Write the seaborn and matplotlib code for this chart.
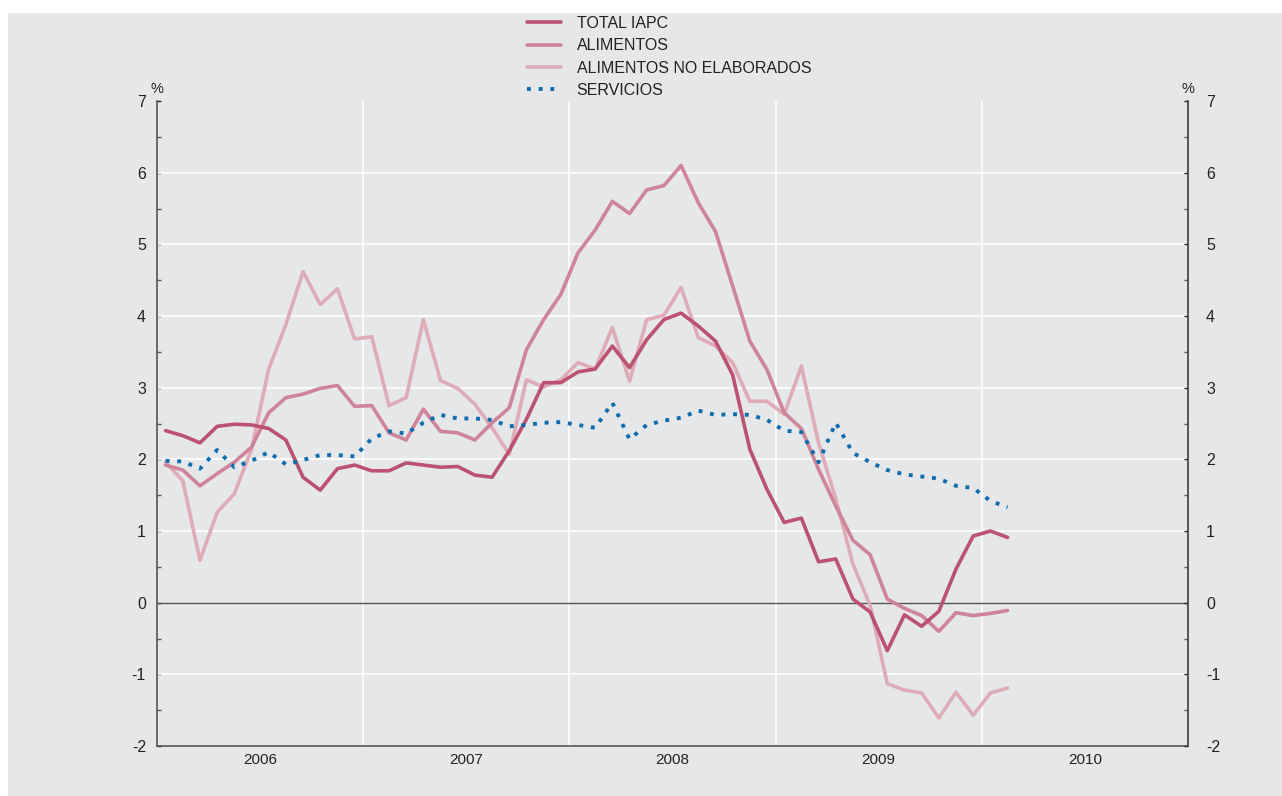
import numpy as np
import pandas as pd
import matplotlib
matplotlib.use("Agg")
import matplotlib.pyplot as plt
import matplotlib.patches as mpatches
import seaborn as sns

# monthly data, Jan 2006 - Feb 2010 (% tasa interanual)
total_iapc = [2.40, 2.33, 2.23, 2.46, 2.49, 2.48, 2.43, 2.27, 1.75, 1.57, 1.87, 1.92,
              1.84, 1.84, 1.95, 1.92, 1.89, 1.90, 1.78, 1.75, 2.12, 2.56, 3.07, 3.07,
              3.22, 3.26, 3.58, 3.28, 3.67, 3.95, 4.04, 3.86, 3.65, 3.18, 2.14, 1.58,
              1.12, 1.18, 0.57, 0.61, 0.05, -0.13, -0.67, -0.17, -0.33, -0.12, 0.47, 0.93,
              1.00, 0.91]
alimentos = [1.92, 1.85, 1.63, 1.80, 1.96, 2.17, 2.65, 2.86, 2.91, 2.99, 3.03, 2.74,
             2.75, 2.37, 2.27, 2.70, 2.39, 2.37, 2.27, 2.51, 2.72, 3.53, 3.95, 4.30,
             4.88, 5.20, 5.60, 5.43, 5.76, 5.82, 6.10, 5.58, 5.18, 4.42, 3.65, 3.25,
             2.65, 2.43, 1.86, 1.35, 0.87, 0.67, 0.05, -0.08, -0.18, -0.40, -0.14, -0.18,
             -0.15, -0.11]
alim_no_elab = [1.96, 1.70, 0.59, 1.26, 1.52, 2.14, 3.26, 3.88, 4.62, 4.16, 4.38, 3.68,
                3.71, 2.75, 2.86, 3.95, 3.10, 2.99, 2.77, 2.44, 2.07, 3.11, 3.01, 3.11,
                3.35, 3.26, 3.84, 3.09, 3.95, 4.01, 4.40, 3.70, 3.58, 3.35, 2.81, 2.81,
                2.63, 3.30, 2.23, 1.45, 0.54, -0.04, -1.13, -1.22, -1.26, -1.61, -1.25, -1.57,
                -1.26, -1.19]
servicios = [1.98, 1.97, 1.87, 2.13, 1.89, 1.98, 2.10, 1.93, 1.99, 2.06, 2.06, 2.04,
             2.29, 2.39, 2.36, 2.51, 2.62, 2.57, 2.57, 2.55, 2.46, 2.48, 2.51, 2.52,
             2.48, 2.44, 2.79, 2.28, 2.48, 2.54, 2.58, 2.68, 2.62, 2.63, 2.62, 2.55,
             2.40, 2.38, 1.96, 2.51, 2.09, 1.96, 1.85, 1.79, 1.76, 1.73, 1.63, 1.60,
             1.42, 1.33]
years = ["2006", "2007", "2008", "2009", "2010"]

months = np.arange(len(total_iapc)) + 0.5

BG = "#e6e7e9"
sns.set_theme(style="white")
plt.rcParams['font.family'] = ['Liberation Sans', 'DejaVu Sans']
plt.rcParams['axes.unicode_minus'] = False

fig = plt.figure(figsize=(12.82, 7.96), dpi=100)
fig.patch.set_facecolor("white")
fig.patches.append(mpatches.Rectangle((8 / 1282, 0.0), 1.0, 1 - 13 / 796,
                                      transform=fig.transFigure, facecolor=BG,
                                      edgecolor="none", zorder=-5))

ax = fig.add_axes([157 / 1282, 1 - 746 / 796, (1188 - 157) / 1282, (746 - 101) / 796])
ax.set_facecolor(BG)

# light lines first so the total line sits on top
sns.lineplot(x=months, y=alim_no_elab, ax=ax, color="#deabb7", linewidth=2.6,
             label="ALIMENTOS NO ELABORADOS", zorder=3)
sns.lineplot(x=months, y=alimentos, ax=ax, color="#cf8499", linewidth=2.6,
             label="ALIMENTOS", zorder=3.2)
sns.lineplot(x=months, y=total_iapc, ax=ax, color="#bb5272", linewidth=2.6,
             label="TOTAL IAPC", zorder=3.4)
sns.lineplot(x=months, y=servicios, ax=ax, color="#0b6db1", linewidth=2.8,
             label="SERVICIOS", zorder=5)
ax.lines[-1].set_dashes((1, 2))
ax.lines[-1].set_dash_capstyle("butt")

ax.set_xlim(0, 60)
ax.set_ylim(-2, 7)

# grid
for yv in range(-1, 7):
    if yv != 0:
        ax.axhline(yv, color="white", lw=1.2, zorder=1)
for xv in [12, 24, 36, 48]:
    ax.axvline(xv, color="white", lw=1.2, zorder=1)
ax.axhline(0, color="#555555", lw=1.0, zorder=2)

ax.spines["top"].set_visible(False)
for side in ["left", "right", "bottom"]:
    ax.spines[side].set_color("#555555")
    ax.spines[side].set_linewidth(1.2)

# x ticks
ax.set_xticks([6, 18, 30, 42, 54])
ax.set_xticklabels(years)
ax.set_xticks(np.arange(0, 61), minor=True)
ax.tick_params(axis="x", which="major", length=0, pad=5, labelsize=11, colors="#222222")
ax.tick_params(axis="x", which="minor", direction="in", color="#555555", width=1.0)
for k, t in enumerate(ax.xaxis.get_minor_ticks()):
    if k % 12 == 0:
        t.tick1line.set_markersize(7.7)
    elif k % 3 == 0:
        t.tick1line.set_markersize(4.8)
    else:
        t.tick1line.set_markersize(2.4)

# y ticks left
ax.set_yticks(range(-2, 8))
ax.set_yticks(np.arange(-2, 7.01, 0.5), minor=True)
ax.tick_params(axis="y", which="both", direction="in", length=3, width=1.0,
               color="#555555", left=True, right=False)
ax.tick_params(axis="y", which="major", pad=8, labelsize=11.5, colors="#222222")
ax.set_xlabel("")
ax.set_ylabel("")

# y ticks right
ax2 = ax.twinx()
ax2.set_ylim(-2, 7)
ax2.set_yticks(range(-2, 8))
ax2.set_yticks(np.arange(-2, 7.01, 0.5), minor=True)
ax2.tick_params(axis="y", which="both", direction="in", length=3, width=1.0,
                color="#555555", right=True, left=False)
ax2.tick_params(axis="y", which="major", pad=13, labelsize=11.5, colors="#222222")
ax2.grid(False)
for side in ["top", "left", "bottom"]:
    ax2.spines[side].set_visible(False)
ax2.spines["right"].set_color("#555555")
ax2.spines["right"].set_linewidth(1.2)

ax.text(0, 7.17, "%", ha="center", va="center", fontsize=10.5, color="#222222",
        clip_on=False)
ax.text(60, 7.17, "%", ha="center", va="center", fontsize=10.5, color="#222222",
        clip_on=False)

# legend
handles, labels = ax.get_legend_handles_labels()
order = ["TOTAL IAPC", "ALIMENTOS", "ALIMENTOS NO ELABORADOS", "SERVICIOS"]
hmap = dict(zip(labels, handles))
ax.get_legend().remove()
leg = fig.legend([hmap[o] for o in order], order, loc="upper left",
                 bbox_to_anchor=(527 / 1282, 1 - 16 / 796), frameon=False,
                 fontsize=11.5, handlelength=2.1, handletextpad=1.0,
                 labelspacing=0.46, borderpad=0, borderaxespad=0)
for txt in leg.get_texts():
    txt.set_color("#222222")

fig.savefig("out.png", dpi=100, facecolor=fig.get_facecolor())
